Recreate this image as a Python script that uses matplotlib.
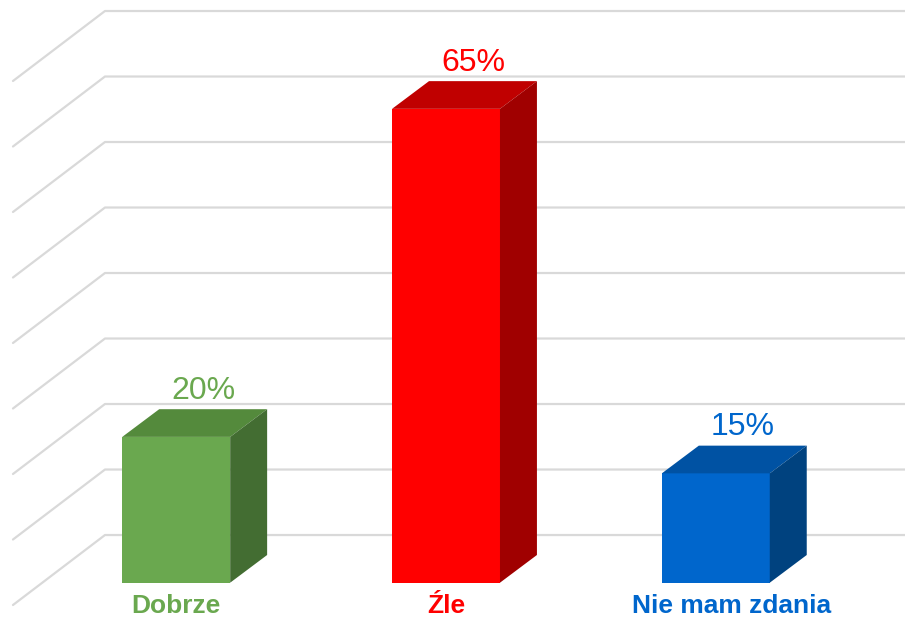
import matplotlib
matplotlib.use("Agg")
import matplotlib.pyplot as plt
from matplotlib.patches import Polygon

plt.rcParams['font.family'] = ['Liberation Sans', 'DejaVu Sans']

# dane
categories = ["Dobrze", "Źle", "Nie mam zdania"]
values = [20, 65, 15]
value_labels = ["20%", "65%", "15%"]
front_colors = ["#6AA84F", "#FF0000", "#0066CC"]
top_colors = ["#548A3C", "#C00000", "#0052A3"]
side_colors = ["#436D32", "#A00000", "#00427F"]
grid_ticks = [0, 10, 20, 30, 40, 50, 60, 70, 80]

# geometria "3D"
bar_w = 0.4
depth_x = 0.137
depth_y = 3.80
wall_x = -0.264
wall_base = 6.54
wall_scale = 0.8985
side_dx = -0.341
side_dy = -9.60
grid_col = "#D9D9D9"

fig = plt.figure(figsize=(9.05, 6.17), dpi=100)
ax = fig.add_axes([0, 0, 1, 1])
ax.set_xlim(-0.6531, 2.7012)
ax.set_ylim(-4.705, 79.93)
ax.axis('off')

# siatka na tylnej i bocznej ścianie
for t in grid_ticks:
    y = wall_base + wall_scale * t
    ax.plot([wall_x + side_dx, wall_x, 3.0], [y + side_dy, y, y],
            color=grid_col, lw=1.6, zorder=1, solid_capstyle='round')

# słupki
x = list(range(len(categories)))
ax.bar(x, values, width=bar_w, color=front_colors, linewidth=0, zorder=3)
for i, v in enumerate(values):
    l = x[i] - bar_w / 2
    r = x[i] + bar_w / 2
    top = Polygon([(l, v), (r, v), (r + depth_x, v + depth_y), (l + depth_x, v + depth_y)],
                  closed=True, facecolor=top_colors[i], edgecolor='none', zorder=3)
    side = Polygon([(r, 0), (r + depth_x, depth_y), (r + depth_x, v + depth_y), (r, v)],
                   closed=True, facecolor=side_colors[i], edgecolor='none', zorder=3)
    ax.add_patch(top)
    ax.add_patch(side)
    ax.text(x[i] + 0.1, v + depth_y + 1.45, value_labels[i], ha='center', va='baseline',
            fontsize=23, color=front_colors[i], zorder=4)

label_shift = [0, 0, 0.06]
for i, c in enumerate(categories):
    ax.text(x[i] + label_shift[i], -4.1, c, ha='center', va='baseline',
            fontsize=19, fontweight='bold', color=front_colors[i], zorder=4)

fig.savefig("out.png", dpi=100)
